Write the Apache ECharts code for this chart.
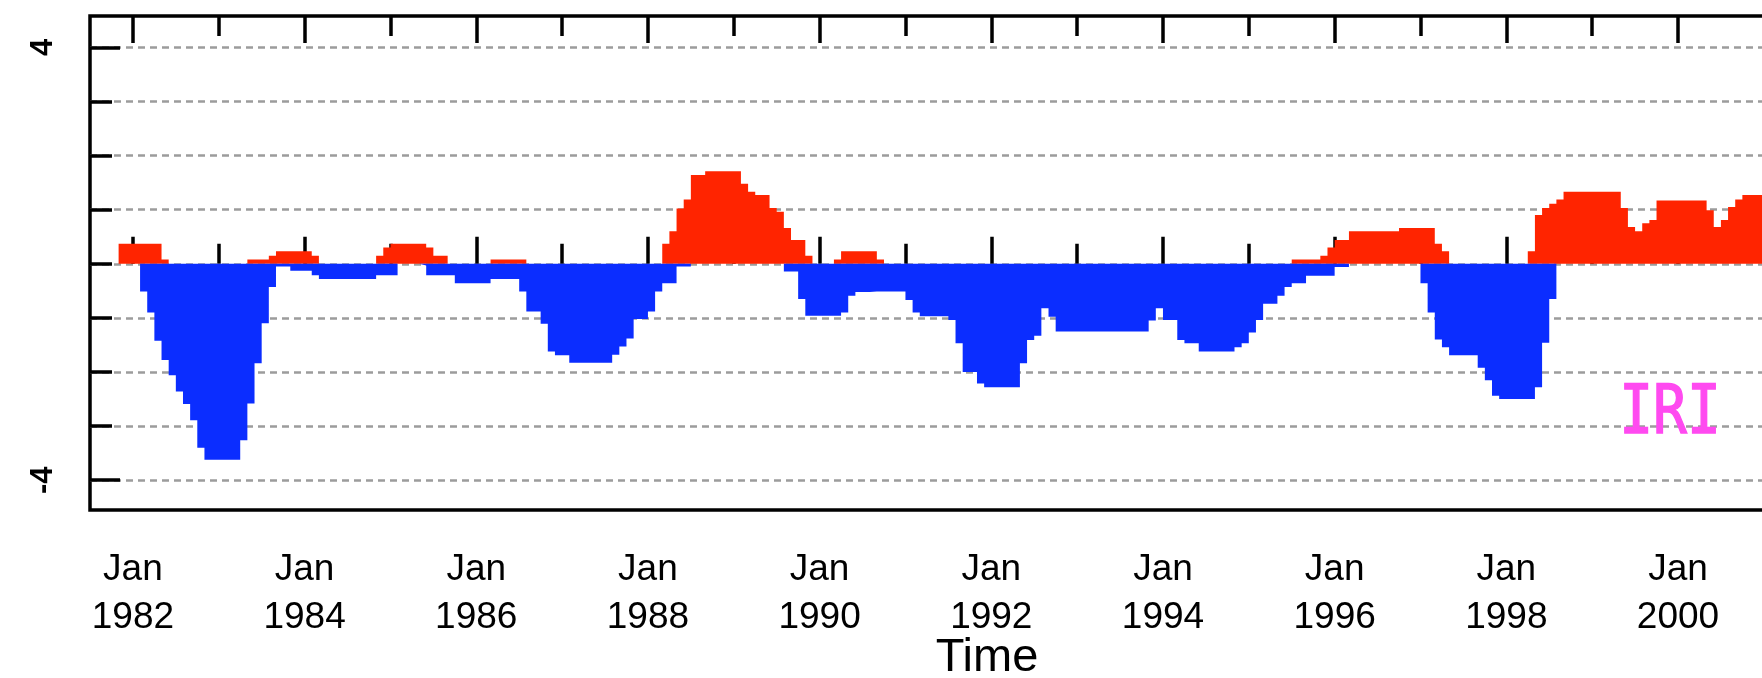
<!DOCTYPE html>
<html>
<head>
<meta charset="utf-8">
<script src="https://cdn.jsdelivr.net/npm/echarts@6/dist/echarts.min.js"></script>
<style>
html,body{margin:0;padding:0;overflow:hidden;background:#fff;width:1762px;height:678px}
#c{width:1900px;height:678px}
</style>
</head>
<body>
<div id="c"></div>
<script>
// Monthly series, first value = Nov 1981
const startYear = 1981;
const startMonth = 11;

// positive part (red)
const posVals = [
  0.37, 0.37,                                                             // 1981 Nov-Dec
  0.37, 0.37, 0.37, 0.37, 0.08, 0, 0, 0, 0, 0, 0, 0,                      // 1982
  0, 0, 0, 0, 0.08, 0.08, 0.08, 0.15, 0.23, 0.23, 0.23, 0.23,             // 1983
  0.23, 0.15, 0, 0, 0, 0, 0, 0, 0, 0, 0.15, 0.30,                         // 1984
  0.37, 0.37, 0.37, 0.37, 0.37, 0.30, 0.15, 0.15, 0, 0, 0, 0,             // 1985
  0, 0, 0.08, 0.08, 0.08, 0.08, 0.08, 0, 0, 0, 0, 0,                      // 1986
  0, 0, 0, 0, 0, 0, 0, 0, 0, 0, 0, 0,                                     // 1987
  0, 0, 0.37, 0.60, 1.02, 1.19, 1.64, 1.64, 1.71, 1.71, 1.71, 1.71,       // 1988
  1.71, 1.48, 1.33, 1.27, 1.27, 1.03, 0.96, 0.66, 0.44, 0.44, 0.15, 0,    // 1989
  0, 0, 0.08, 0.23, 0.23, 0.23, 0.23, 0.23, 0.08, 0, 0, 0,                // 1990
  0, 0, 0, 0, 0, 0, 0, 0, 0, 0, 0, 0,                                     // 1991
  0, 0, 0, 0, 0, 0, 0, 0, 0, 0, 0, 0,                                     // 1992
  0, 0, 0, 0, 0, 0, 0, 0, 0, 0, 0, 0,                                     // 1993
  0, 0, 0, 0, 0, 0, 0, 0, 0, 0, 0, 0,                                     // 1994
  0, 0, 0, 0, 0, 0, 0.08, 0.08, 0.08, 0.08, 0.15, 0.30,                   // 1995
  0.44, 0.44, 0.60, 0.60, 0.60, 0.60, 0.60, 0.60, 0.60, 0.66, 0.66, 0.66, // 1996
  0.66, 0.66, 0.37, 0.23, 0, 0, 0, 0, 0, 0, 0, 0,                        // 1997
  0, 0, 0, 0.23, 0.90, 1.03, 1.11, 1.19, 1.33, 1.33, 1.33, 1.33,          // 1998
  1.33, 1.33, 1.33, 1.33, 1.03, 0.68, 0.60, 0.75, 0.81, 1.17, 1.17, 1.17, // 1999
  1.17, 1.17, 1.17, 1.17, 0.99, 0.68, 0.81, 1.05, 1.19, 1.27, 1.27, 1.27  // 2000
];

// negative part (blue)
const negVals = [
  0, 0,                                                                   // 1981 Nov-Dec
  0, -0.51, -0.90, -1.42, -1.78, -2.06, -2.36, -2.59, -2.89, -3.40, -3.62, -3.62, // 1982
  -3.62, -3.62, -3.62, -3.26, -2.58, -1.84, -1.10, -0.43, -0.05, -0.05, -0.13, -0.13, // 1983
  -0.13, -0.21, -0.28, -0.28, -0.28, -0.28, -0.28, -0.28, -0.28, -0.28, -0.21, -0.21, // 1984
  -0.21, 0, 0, 0, -0.03, -0.21, -0.21, -0.21, -0.21, -0.36, -0.36, -0.36, // 1985
  -0.36, -0.36, -0.28, -0.28, -0.28, -0.28, -0.51, -0.88, -0.88, -1.11, -1.62, -1.69, // 1986
  -1.69, -1.83, -1.83, -1.83, -1.83, -1.83, -1.83, -1.68, -1.53, -1.38, -1.02, -1.02, // 1987
  -0.88, -0.51, -0.36, -0.36, -0.05, -0.05, 0, 0, 0, 0, 0, 0,             // 1988
  0, 0, 0, 0, 0, 0, 0, -0.14, -0.14, -0.65, -0.96, -0.96,                 // 1989
  -0.96, -0.96, -0.96, -0.90, -0.59, -0.52, -0.52, -0.51, -0.51, -0.51, -0.51, -0.51, // 1990
  -0.67, -0.90, -0.97, -0.97, -0.97, -0.97, -1.04, -1.47, -2.00, -2.00, -2.21, -2.28, // 1991
  -2.28, -2.28, -2.28, -2.28, -1.84, -1.41, -1.33, -0.82, -0.98, -1.25, -1.25, -1.25, // 1992
  -1.25, -1.25, -1.25, -1.25, -1.25, -1.25, -1.25, -1.25, -1.25, -1.25, -1.05, -0.82, // 1993
  -1.04, -1.04, -1.41, -1.47, -1.47, -1.62, -1.62, -1.62, -1.62, -1.62, -1.54, -1.47, // 1994
  -1.27, -1.04, -0.74, -0.74, -0.59, -0.43, -0.36, -0.36, -0.22, -0.22, -0.22, -0.22, // 1995
  -0.06, -0.06, 0, 0, 0, 0, 0, 0, 0, 0, 0, 0,                             // 1996
  -0.36, -0.90, -1.40, -1.54, -1.69, -1.69, -1.69, -1.69, -1.92, -2.15, -2.44, -2.50, // 1997
  -2.50, -2.50, -2.50, -2.50, -2.28, -1.46, -0.65, 0, 0, 0, 0, 0,         // 1998
  0, 0, 0, 0, 0, 0, 0, 0, 0, 0, 0, 0,                                     // 1999
  0, 0, 0, 0, 0, 0, 0, 0, 0, 0, 0, 0                                      // 2000
];

// axis ticks / labels
const labelYears = [1982, 1984, 1986, 1988, 1990, 1992, 1994, 1996, 1998, 2000];
const minorYears = [1983, 1985, 1987, 1989, 1991, 1993, 1995, 1997, 1999, 2001];
const yLabelValues = [-4, 4];
const yMinorValues = [-3, -2, -1, 0, 1, 2, 3];

function toPairs(vals) {
  const base = startYear + (startMonth - 1) / 12;
  const out = vals.map((v, i) => [base + i / 12, v]);
  out.push([base + vals.length / 12, vals[vals.length - 1]]);
  return out;
}

const FONT = 'Liberation Sans';
const X_MIN = 1981.5, X_MAX = 2002.4;
const Y_MIN = -4.55, Y_MAX = 4.58;
const tickStyle = { color: '#000', width: 3.5 };
const gridLineStyle = { color: '#9c9c9c', width: 2.5, type: [7, 5] };

function xAxisDef(position, values, len, withLabel) {
  const a = {
    type: 'value', min: X_MIN, max: X_MAX, position: position,
    axisLine: { show: false },
    splitLine: { show: false },
    axisTick: { show: true, inside: true, length: len, customValues: values, lineStyle: tickStyle },
    axisLabel: { show: false }
  };
  if (withLabel) {
    a.axisLabel = {
      show: true, customValues: values,
      formatter: v => 'Jan\n' + Math.round(v),
      fontFamily: FONT, fontSize: 37, lineHeight: 48, color: '#000', margin: 36
    };
    a.name = 'Time';
    a.nameLocation = 'middle';
    a.nameGap = 125;
    a.nameMoveOverlap = false;
    a.nameTextStyle = { fontFamily: FONT, fontSize: 47, color: '#000' };
  }
  return a;
}

function yAxisDef(values, len, withLabel) {
  const a = {
    type: 'value', min: Y_MIN, max: Y_MAX, position: 'left',
    axisLine: { show: false },
    axisTick: { show: true, inside: true, length: len, customValues: values, lineStyle: tickStyle },
    splitLine: { show: true, lineStyle: gridLineStyle },
    axisLabel: { show: false }
  };
  if (withLabel) {
    a.axisLabel = {
      show: true, customValues: values, rotate: 90,
      fontFamily: FONT, fontSize: 31, fontWeight: 'bold', color: '#000', margin: 31
    };
  }
  return a;
}

const chart = echarts.init(document.getElementById('c'), null, { renderer: 'canvas' });
chart.setOption({
  animation: false,
  backgroundColor: '#fff',
  grid: {
    left: 90, top: 16, right: 16, bottom: 168,
    show: true, borderColor: '#000', borderWidth: 3.5,
    containLabel: false, outerBoundsMode: 'none'
  },
  xAxis: [
    xAxisDef('bottom', labelYears, 27, true),
    xAxisDef('bottom', minorYears, 20, false),
    xAxisDef('top', labelYears, 27, false),
    xAxisDef('top', minorYears, 20, false)
  ],
  yAxis: [
    yAxisDef(yMinorValues, 22, false),
    yAxisDef(yLabelValues, 30, true)
  ],
  series: [
    {
      name: 'positive', type: 'line', step: 'end', xAxisIndex: 0, yAxisIndex: 0,
      data: toPairs(posVals), showSymbol: false, symbol: 'none',
      lineStyle: { width: 0, opacity: 0 },
      areaStyle: { color: '#ff2400', opacity: 1 },
      z: 3
    },
    {
      name: 'negative', type: 'line', step: 'end', xAxisIndex: 0, yAxisIndex: 0,
      data: toPairs(negVals), showSymbol: false, symbol: 'none',
      lineStyle: { width: 0, opacity: 0 },
      areaStyle: { color: '#0b2dff', opacity: 1 },
      z: 3
    }
  ],
  graphic: [
    {
      type: 'text', x: 1670, y: 416, scaleX: 0.84, z: 10,
      style: {
        text: 'IRI', fill: '#ff4af0', stroke: '#ff4af0', lineWidth: 1.5,
        font: '67px "DejaVu Sans Mono"',
        align: 'center', verticalAlign: 'middle',
        textAlign: 'center', textVerticalAlign: 'middle'
      }
    }
  ]
});
</script>
</body>
</html>
